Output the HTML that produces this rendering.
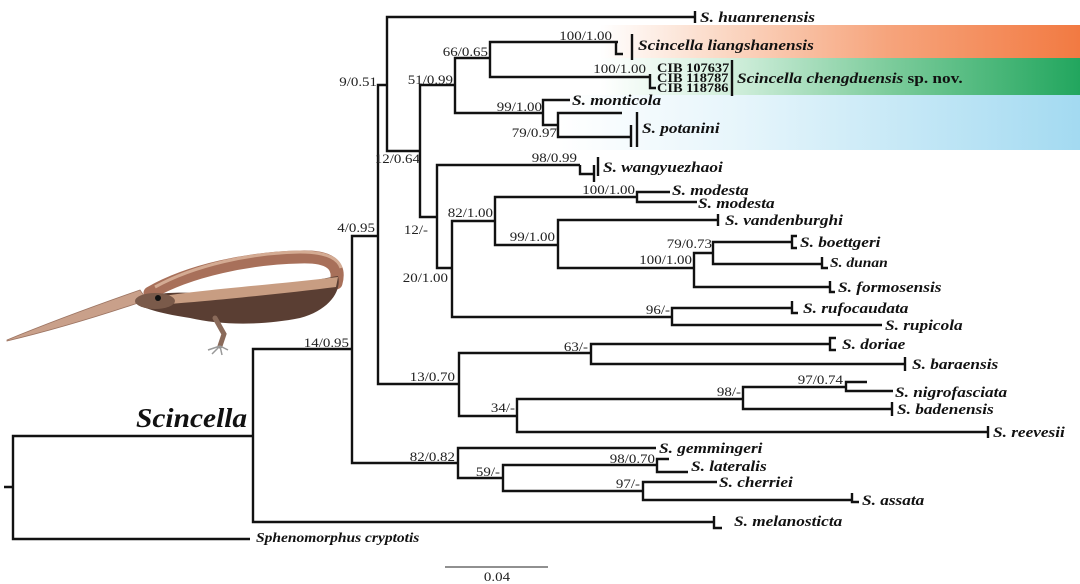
<!DOCTYPE html>
<html><head><meta charset="utf-8"><style>
html,body{margin:0;padding:0;background:#fff;}
svg{display:block;}
.sp{font-family:"Liberation Serif",serif;font-weight:bold;font-style:italic;font-size:15px;fill:#111;}
.sm{font-family:"Liberation Serif",serif;font-weight:bold;font-style:italic;font-size:13.5px;fill:#111;}
.cib{font-family:"Liberation Serif",serif;font-weight:bold;font-size:12.5px;fill:#111;}
.sv{font-family:"Liberation Serif",serif;font-size:13px;fill:#222;}
.br{fill:none;stroke:#111;stroke-width:2.4;stroke-linejoin:miter;}
</style></head><body>
<svg width="1080" height="584" viewBox="0 0 1080 584" xmlns="http://www.w3.org/2000/svg">
<defs>
<linearGradient id="gO" x1="600" y1="0" x2="1080" y2="0" gradientUnits="userSpaceOnUse">
<stop offset="0" stop-color="#ffffff"/><stop offset="0.25" stop-color="#fbd9c6"/><stop offset="0.6" stop-color="#f6a47c"/><stop offset="1" stop-color="#f27a42"/></linearGradient>
<linearGradient id="gG" x1="600" y1="0" x2="1080" y2="0" gradientUnits="userSpaceOnUse">
<stop offset="0" stop-color="#ffffff"/><stop offset="0.28" stop-color="#d0eedb"/><stop offset="0.6" stop-color="#7dcc9c"/><stop offset="1" stop-color="#22a65e"/></linearGradient>
<linearGradient id="gB" x1="560" y1="0" x2="1080" y2="0" gradientUnits="userSpaceOnUse">
<stop offset="0" stop-color="#ffffff"/><stop offset="0.35" stop-color="#e6f5fb"/><stop offset="1" stop-color="#a3daf1"/></linearGradient>
</defs>
<rect width="1080" height="584" fill="#fff"/>
<rect x="600" y="25" width="480" height="33" fill="url(#gO)"/>
<rect x="600" y="58" width="480" height="37" fill="url(#gG)"/>
<rect x="560" y="95" width="520" height="55" fill="url(#gB)"/>

<!-- lizard -->
<g>
<path d="M7,340 Q60,318 140,290 L147,300 Q70,326 7,341 Z" fill="#c9a08a" stroke="#9c7462" stroke-width="0.8"/>
<path d="M150,293 C190,270 250,258 300,257 C330,256 341,265 336,283" fill="none" stroke="#a8705a" stroke-width="13" stroke-linecap="round"/>
<path d="M155,287 C195,265 250,253 300,252 C325,252 338,258 341,268" fill="none" stroke="#d4ab93" stroke-width="3"/>
<path d="M135,302 C150,292 175,292 200,293 L260,288 C300,284 325,278 338,276 C342,290 330,310 300,318 C260,326 220,325 190,318 C165,314 145,310 135,302 Z" fill="#5a3e33"/>
<path d="M165,296 C200,290 280,284 338,277 L336,287 C280,294 200,302 168,304 Z" fill="#c89d82"/>
<ellipse cx="155" cy="301" rx="20" ry="8" fill="#7a5a4a"/>
<circle cx="158" cy="298" r="3" fill="#111"/>
<path d="M215,318 L224,334 L220,346" fill="none" stroke="#8a6a5a" stroke-width="5" stroke-linecap="round"/>
<path d="M220,346 L208,350 M220,346 L212,354 M220,346 L222,355 M220,346 L228,350" stroke="#999" stroke-width="1.5"/>
</g>

<!-- tree branches -->
<path class="br" d="M4,487 H13 M250,539 H13 V436 H253"/>
<path class="br" d="M352,349 H253 V522 H714"/>
<path class="br" d="M378,236 H352 V463 H458"/>
<path class="br" d="M656,448 H458 V478 H503"/>
<path class="br" d="M657,465 H503 V491 H643"/>
<path class="br" d="M669,459 H657 V472 H688"/>
<path class="br" d="M717,482 H643 V500 H852"/>
<path class="br" d="M387,85 H378 V384 H459"/>
<path class="br" d="M695,17 H387 V151 H420"/>
<path class="br" d="M455,85 H420 V217 H437"/>
<path class="br" d="M490,58 H455 V113 H543"/>
<path class="br" d="M613,42 H490 V77 H650"/>
<path class="br" d="M570,100 H543 V125 H558"/>
<path class="br" d="M622,113 H558 V137 H631"/>
<path class="br" d="M580,165 H437 V268 H452"/>
<path class="br" d="M495,221 H452 V317 H672"/>
<path class="br" d="M637,197 H495 V245 H558"/>
<path class="br" d="M670,192 H637 V202 H697"/>
<path class="br" d="M718,220 H558 V268 H694"/>
<path class="br" d="M713,253 H694 V287 H830"/>
<path class="br" d="M792,242 H713 V264 H822"/>
<path class="br" d="M792,308 H672 V325 H882"/>
<path class="br" d="M591,353 H459 V416 H517"/>
<path class="br" d="M830,344 H591 V364 H905"/>
<path class="br" d="M743,399 H517 V432 H988"/>
<path class="br" d="M846,387 H743 V409 H892"/>
<path class="br" d="M867,382 H846 V391 H893"/>

<!-- tip ticks -->
<path class="br" d="M695,11 V23"/>
<path class="br" d="M613,42 H618 M616,41 V54 H623"/>
<path class="br" d="M632,34 V60" stroke-width="2.8"/>
<path class="br" d="M650,74 V88 H656"/>
<path class="br" d="M732,60 V96" stroke-width="2.6"/>
<path class="br" d="M631,125 V147 M637,112 V147"/>
<path class="br" d="M580,165 V174 H593 M594,165 V182 M598,157 V176"/>
<path class="br" d="M714,516 V528 H722"/>
<path class="br" d="M852,493 V502 H859"/>
<path class="br" d="M718,214 V226"/>
<path class="br" d="M797,236 H792 V248 H797"/>
<path class="br" d="M822,257 V268 H828"/>
<path class="br" d="M830,281 V292 H835"/>
<path class="br" d="M792,301 V313 H798"/>
<path class="br" d="M836,338 H830 V350 H836"/>
<path class="br" d="M905,357 V371"/>
<path class="br" d="M892,402 V416"/>
<path class="br" d="M988,426 V438"/>

<!-- scale bar -->
<path d="M445,567 H548" stroke="#222" stroke-width="1"/>
<text class="sv" text-anchor="middle" transform="translate(497,581) scale(1.15,1)">0.04</text>

<!-- species labels -->
<text class="sp" transform="translate(700,22) scale(1.15,1)">S. huanrenensis</text>
<text class="sp" transform="translate(638,50) scale(1.15,1)">Scincella liangshanensis</text>
<text class="cib" transform="translate(657,72) scale(1.15,1)">CIB 107637</text>
<text class="cib" transform="translate(657,82) scale(1.15,1)">CIB 118787</text>
<text class="cib" transform="translate(657,92) scale(1.15,1)">CIB 118786</text>
<text class="sp" transform="translate(737,83) scale(1.15,1)">Scincella chengduensis <tspan font-style="normal">sp. nov.</tspan></text>
<text class="sp" transform="translate(572,105) scale(1.15,1)">S. monticola</text>
<text class="sp" transform="translate(642,133) scale(1.15,1)">S. potanini</text>
<text class="sp" transform="translate(603,172) scale(1.15,1)">S. wangyuezhaoi</text>
<text class="sp" transform="translate(672,195) scale(1.15,1)">S. modesta</text>
<text class="sp" transform="translate(698,208) scale(1.15,1)">S. modesta</text>
<text class="sp" transform="translate(725,225) scale(1.15,1)">S. vandenburghi</text>
<text class="sp" transform="translate(800,247) scale(1.15,1)">S. boettgeri</text>
<text class="sm" transform="translate(830,267) scale(1.15,1)">S. dunan</text>
<text class="sp" transform="translate(838,292) scale(1.15,1)">S. formosensis</text>
<text class="sp" transform="translate(803,313) scale(1.15,1)">S. rufocaudata</text>
<text class="sp" transform="translate(885,330) scale(1.15,1)">S. rupicola</text>
<text class="sp" transform="translate(842,349) scale(1.15,1)">S. doriae</text>
<text class="sp" transform="translate(912,369) scale(1.15,1)">S. baraensis</text>
<text class="sp" transform="translate(895,397) scale(1.15,1)">S. nigrofasciata</text>
<text class="sp" transform="translate(897,414) scale(1.15,1)">S. badenensis</text>
<text class="sp" transform="translate(993,437) scale(1.15,1)">S. reevesii</text>
<text class="sp" transform="translate(659,453) scale(1.15,1)">S. gemmingeri</text>
<text class="sp" transform="translate(691,471) scale(1.15,1)">S. lateralis</text>
<text class="sp" transform="translate(719,487) scale(1.15,1)">S. cherriei</text>
<text class="sp" transform="translate(862,505) scale(1.15,1)">S. assata</text>
<text class="sp" transform="translate(734,526) scale(1.15,1)">S. melanosticta</text>
<text class="sm" transform="translate(256,542) scale(1.15,1)">Sphenomorphus cryptotis</text>
<text class="sp" style="font-size:27px" transform="translate(136,427) scale(1.09,1)">Scincella</text>

<!-- support values -->
<g class="sv" text-anchor="end">
<text transform="translate(377,86) scale(1.15,1)">9/0.51</text>
<text transform="translate(420,163) scale(1.15,1)">12/0.64</text>
<text transform="translate(453,84) scale(1.15,1)">51/0.99</text>
<text transform="translate(488,56) scale(1.15,1)">66/0.65</text>
<text transform="translate(612,40) scale(1.15,1)">100/1.00</text>
<text transform="translate(646,73) scale(1.15,1)">100/1.00</text>
<text transform="translate(542,111) scale(1.15,1)">99/1.00</text>
<text transform="translate(557,137) scale(1.15,1)">79/0.97</text>
<text transform="translate(577,162) scale(1.15,1)">98/0.99</text>
<text transform="translate(428,234) scale(1.15,1)">12/-</text>
<text transform="translate(493,217) scale(1.15,1)">82/1.00</text>
<text transform="translate(448,282) scale(1.15,1)">20/1.00</text>
<text transform="translate(635,194) scale(1.15,1)">100/1.00</text>
<text transform="translate(555,241) scale(1.15,1)">99/1.00</text>
<text transform="translate(712,248) scale(1.15,1)">79/0.73</text>
<text transform="translate(692,264) scale(1.15,1)">100/1.00</text>
<text transform="translate(670,314) scale(1.15,1)">96/-</text>
<text transform="translate(375,232) scale(1.15,1)">4/0.95</text>
<text transform="translate(349,347) scale(1.15,1)">14/0.95</text>
<text transform="translate(455,381) scale(1.15,1)">13/0.70</text>
<text transform="translate(588,351) scale(1.15,1)">63/-</text>
<text transform="translate(515,412) scale(1.15,1)">34/-</text>
<text transform="translate(741,396) scale(1.15,1)">98/-</text>
<text transform="translate(843,384) scale(1.15,1)">97/0.74</text>
<text transform="translate(455,461) scale(1.15,1)">82/0.82</text>
<text transform="translate(500,476) scale(1.15,1)">59/-</text>
<text transform="translate(655,463) scale(1.15,1)">98/0.70</text>
<text transform="translate(640,488) scale(1.15,1)">97/-</text>
</g>
</svg>
</body></html>
